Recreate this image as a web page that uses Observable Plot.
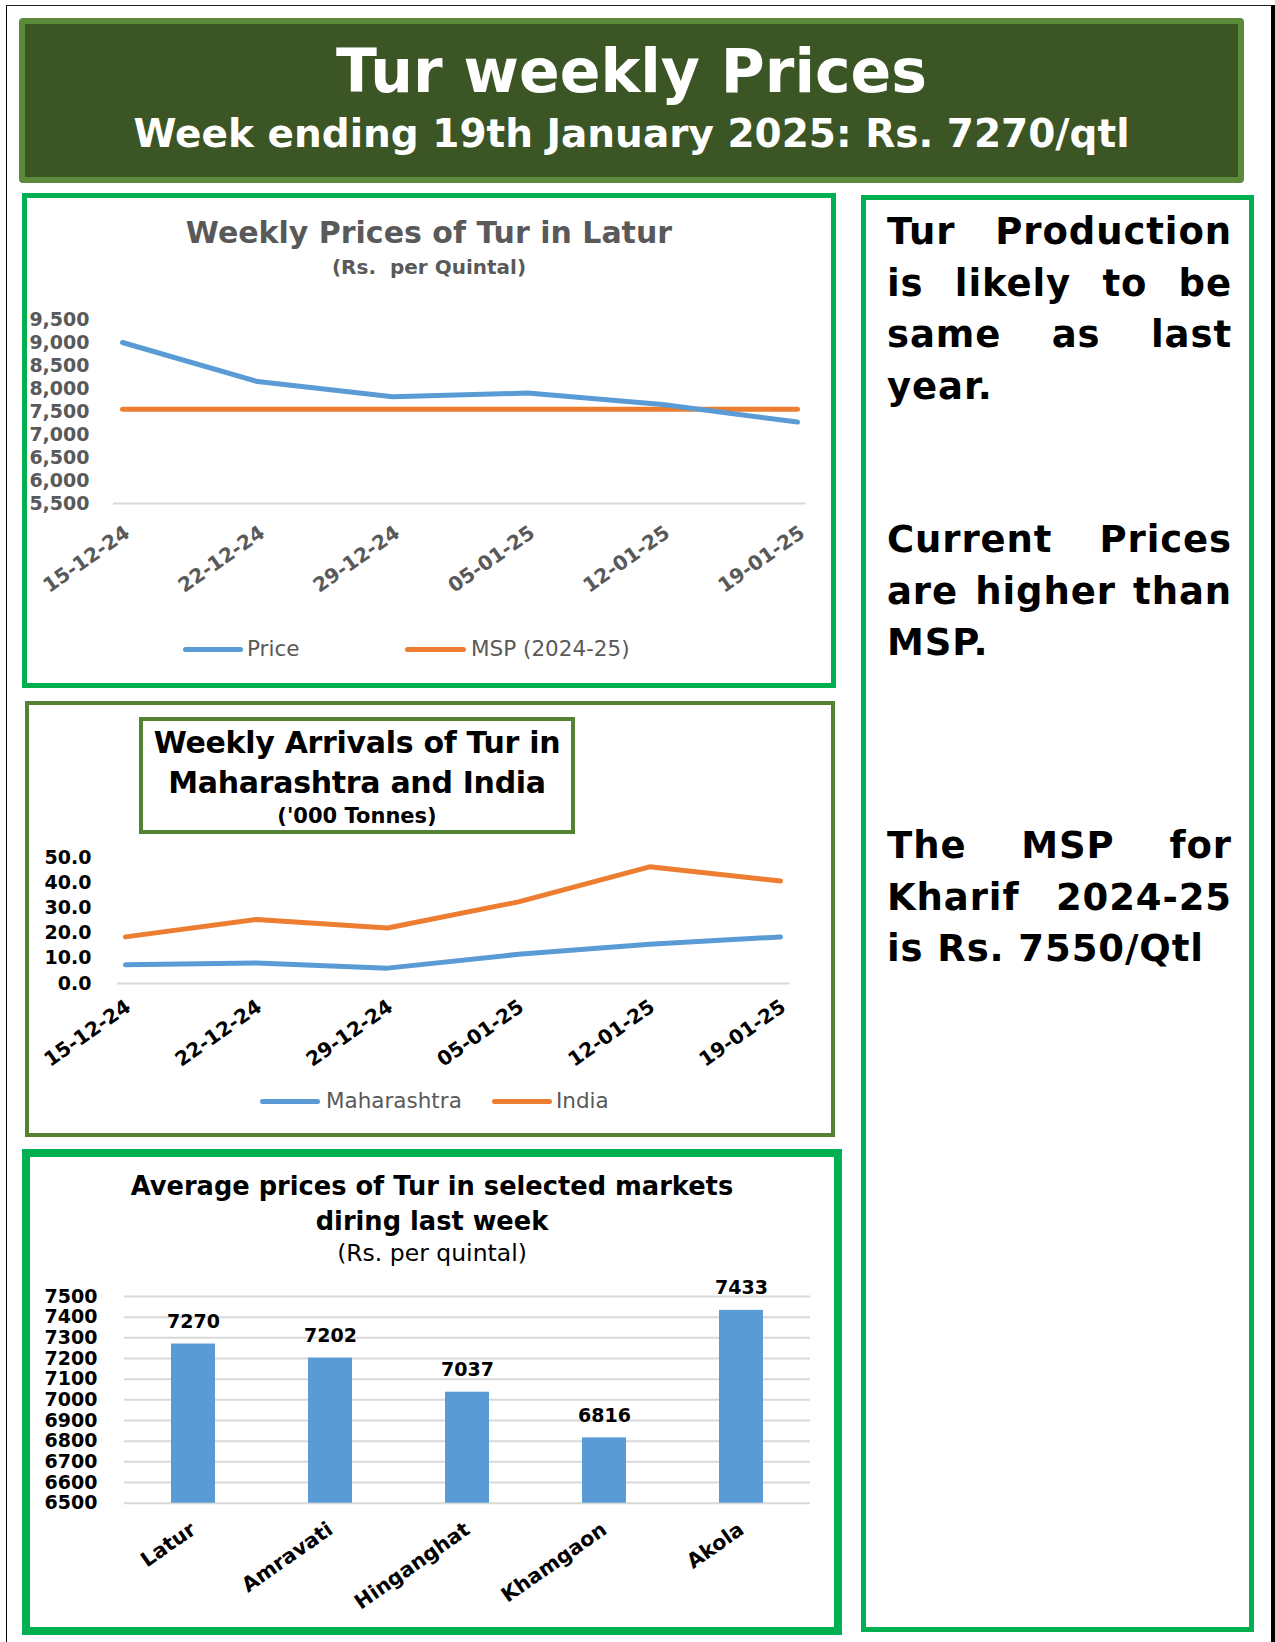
<!DOCTYPE html>
<html><head><meta charset="utf-8">
<script src="https://cdn.jsdelivr.net/npm/d3@7"></script>
<script src="https://cdn.jsdelivr.net/npm/@observablehq/plot@0.6"></script>
<style>
body{margin:0;background:#fff;}
#page{position:relative;width:1275px;height:1642px;overflow:hidden;font-family:"DejaVu Sans",sans-serif;background:#fff;}
.abs{position:absolute;box-sizing:border-box;}
.ctr{text-align:center;white-space:nowrap;}
.swatch{position:absolute;height:5px;border-radius:3px;}
.leg{position:absolute;font-size:21.5px;color:#595959;line-height:26px;white-space:nowrap;}
.note{position:absolute;left:887px;width:345px;font-weight:bold;font-size:37px;letter-spacing:0.9px;line-height:51.5px;color:#000;}
.note div{white-space:nowrap;}
.note .j{text-align:justify;text-align-last:justify;white-space:normal;}
</style></head><body><div id="page">
<!-- outer frame -->
<div class="abs" style="left:6px;top:5px;width:1266px;height:1700px;border-left:1.5px solid #000;border-top:1.5px solid #222;"></div>
<div class="abs" style="left:1271px;top:5px;width:4px;height:1637px;background:#000;"></div>

<!-- header -->
<div class="abs" style="left:19px;top:18px;width:1225px;height:165px;background:#3b5524;border:6px solid #5b8a3c;border-radius:4px;"></div>
<div class="abs ctr" style="left:19px;width:1225px;top:36px;font-size:60px;font-weight:bold;color:#fff;line-height:70px;">Tur weekly Prices</div>
<div class="abs ctr" style="left:19px;width:1225px;top:110px;font-size:39px;font-weight:bold;color:#fff;line-height:48px;">Week ending 19th January 2025: Rs. 7270/qtl</div>

<!-- panel 1 -->
<div class="abs" style="left:22px;top:193px;width:814px;height:495px;border:5px solid #00b050;"></div>
<div class="abs ctr" style="left:23px;width:812px;top:214px;font-size:30px;font-weight:bold;color:#595959;line-height:38px;">Weekly Prices of Tur in Latur</div>
<div class="abs ctr" style="left:23px;width:812px;top:254px;font-size:20px;font-weight:bold;color:#595959;line-height:26px;">(Rs.&nbsp; per Quintal)</div>
<div id="c1" class="abs" style="left:23px;top:300px;"></div>
<div class="swatch" style="left:183px;top:647px;width:60px;background:#5b9bd5;"></div>
<div class="leg" style="left:247px;top:636px;">Price</div>
<div class="swatch" style="left:405px;top:647px;width:61px;background:#ed7d31;"></div>
<div class="leg" style="left:471px;top:636px;">MSP (2024-25)</div>

<!-- panel 2 -->
<div class="abs" style="left:25px;top:701px;width:810px;height:436px;border:4px solid #548235;"></div>
<div class="abs" style="left:139px;top:717px;width:436px;height:117px;border:4px solid #548235;"></div>
<div class="abs ctr" style="left:139px;width:436px;top:725px;font-size:30px;font-weight:bold;color:#000;line-height:36px;letter-spacing:-0.3px;">Weekly Arrivals of Tur in</div>
<div class="abs ctr" style="left:139px;width:436px;top:765px;font-size:30px;font-weight:bold;color:#000;line-height:36px;letter-spacing:-0.3px;">Maharashtra and India</div>
<div class="abs ctr" style="left:139px;width:436px;top:803px;font-size:21px;font-weight:bold;color:#000;line-height:26px;">('000 Tonnes)</div>
<div id="c2" class="abs" style="left:25px;top:840px;"></div>
<div class="swatch" style="left:260px;top:1099px;width:60px;background:#5b9bd5;"></div>
<div class="leg" style="left:326px;top:1088px;">Maharashtra</div>
<div class="swatch" style="left:492px;top:1099px;width:60px;background:#ed7d31;"></div>
<div class="leg" style="left:556px;top:1088px;">India</div>

<!-- panel 3 -->
<div class="abs" style="left:22px;top:1149px;width:820px;height:486px;border:8px solid #00b050;"></div>
<div class="abs ctr" style="left:23px;width:818px;top:1170px;font-size:25.7px;font-weight:bold;color:#000;line-height:32px;">Average prices of Tur in selected markets</div>
<div class="abs ctr" style="left:23px;width:818px;top:1205px;font-size:25.7px;font-weight:bold;color:#000;line-height:32px;">diring last week</div>
<div class="abs ctr" style="left:23px;width:818px;top:1239px;font-size:23.5px;color:#000;line-height:28px;">(Rs. per quintal)</div>
<div id="c3" class="abs" style="left:23px;top:1280px;"></div>

<!-- right panel -->
<div class="abs" style="left:861px;top:195px;width:393px;height:1437px;border:5px solid #00b050;"></div>
<div class="note" style="top:206px;">
  <div class="j">Tur Production</div>
  <div class="j">is likely to be</div>
  <div class="j">same as last</div>
  <div>year.</div>
</div>
<div class="note" style="top:514px;">
  <div class="j">Current Prices</div>
  <div class="j">are higher than</div>
  <div>MSP.</div>
</div>
<div class="note" style="top:820px;">
  <div class="j">The MSP for</div>
  <div class="j">Kharif 2024-25</div>
  <div>is Rs. 7550/Qtl</div>
</div>
</div>
<script>
// ---- data ----
const weeks = ["15-12-24", "22-12-24", "29-12-24", "05-01-25", "12-01-25", "19-01-25"];
const laturPrice = [9000, 8150, 7820, 7900, 7650, 7270];
const mspPrice = [7550, 7550, 7550, 7550, 7550, 7550];
const priceTicks = [5500, 6000, 6500, 7000, 7500, 8000, 8500, 9000, 9500];

const arrivalsMaharashtra = [7.4, 8.1, 6.1, 11.6, 15.6, 18.5];
const arrivalsIndia = [18.5, 25.4, 22.0, 32.4, 46.3, 40.7];
const arrivalTicks = [0, 10, 20, 30, 40, 50];

const markets = ["Latur", "Amravati", "Hinganghat", "Khamgaon", "Akola"];
const marketPrices = [7270, 7202, 7037, 6816, 7433];
const marketTicks = [6500, 6600, 6700, 6800, 6900, 7000, 7100, 7200, 7300, 7400, 7500];

const BLUE = "#5b9bd5", ORANGE = "#ed7d31", GRID = "#d9d9d9";

// ---- chart 1 ----
const t1 = weeks.map((w, i) => ({week: w, price: laturPrice[i], msp: mspPrice[i]}));
const c1 = Plot.plot({
  width: 812, height: 313,
  marginTop: 19, marginBottom: 110, marginLeft: 90, marginRight: 29,
  style: {fontFamily: "DejaVu Sans", fontWeight: "bold", fontSize: "19px", color: "#595959", background: "transparent", overflow: "visible"},
  x: {type: "point", domain: weeks, range: [96.5, 776], padding: 0},
  y: {domain: [5500, 9500]},
  marks: [
    Plot.ruleY([5500], {stroke: GRID, strokeWidth: 2}),
    Plot.axisY({ticks: priceTicks, tickFormat: d3.format(","), tickSize: 0, tickPadding: 24, label: null}),
    Plot.axisX({tickSize: 0, tickPadding: 27, tickRotate: -35, label: null, fontSize: 20, dx: 5}),
    Plot.lineY(t1, {x: "week", y: "msp", stroke: ORANGE, strokeWidth: 5, strokeLinecap: "round"}),
    Plot.lineY(t1, {x: "week", y: "price", stroke: BLUE, strokeWidth: 5, strokeLinecap: "round", strokeLinejoin: "round"})
  ]
});
document.getElementById("c1").appendChild(c1);

// ---- chart 2 ----
const t2 = weeks.map((w, i) => ({week: w, mh: arrivalsMaharashtra[i], india: arrivalsIndia[i]}));
const c2 = Plot.plot({
  width: 809, height: 248,
  marginTop: 17, marginBottom: 105, marginLeft: 92, marginRight: 44,
  style: {fontFamily: "DejaVu Sans", fontWeight: "bold", fontSize: "19px", color: "#000", background: "transparent", overflow: "visible"},
  x: {type: "point", domain: weeks, range: [99.8, 756], padding: 0},
  y: {domain: [0, 50]},
  marks: [
    Plot.ruleY([0], {stroke: GRID, strokeWidth: 2}),
    Plot.axisY({ticks: arrivalTicks, tickFormat: d3.format(".1f"), tickSize: 0, tickPadding: 26, label: null}),
    Plot.axisX({tickSize: 0, tickPadding: 21, tickRotate: -35, label: null, fontSize: 20, dx: 3}),
    Plot.lineY(t2, {x: "week", y: "mh", stroke: BLUE, strokeWidth: 5, strokeLinecap: "round", strokeLinejoin: "round"}),
    Plot.lineY(t2, {x: "week", y: "india", stroke: ORANGE, strokeWidth: 5, strokeLinecap: "round", strokeLinejoin: "round"})
  ]
});
document.getElementById("c2").appendChild(c2);

// ---- chart 3 ----
const t3 = markets.map((m, i) => ({market: m, price: marketPrices[i]}));
const c3 = Plot.plot({
  width: 818, height: 343,
  marginTop: 16, marginBottom: 120.3, marginLeft: 101, marginRight: 31,
  style: {fontFamily: "DejaVu Sans", fontWeight: "bold", fontSize: "19px", color: "#000", background: "transparent", overflow: "visible"},
  x: {type: "band", domain: markets, paddingInner: 0.68, paddingOuter: 0.34},
  y: {domain: [6500, 7500]},
  marks: [
    Plot.ruleY(marketTicks, {stroke: GRID, strokeWidth: 2}),
    Plot.barY(t3, {x: "market", y1: 6500, y2: "price", fill: BLUE}),
    Plot.text(t3, {x: "market", y: "price", text: d => String(d.price), dy: -22, fontWeight: "bold", fontSize: 19, fill: "#000"}),
    Plot.axisY({ticks: marketTicks, tickFormat: d => String(d), tickSize: 0, tickPadding: 27, label: null}),
    Plot.axisX({tickSize: 0, tickPadding: 24, tickRotate: -35, label: null, fontSize: 20.5})
  ]
});
document.getElementById("c3").appendChild(c3);
</script>
</body></html>
